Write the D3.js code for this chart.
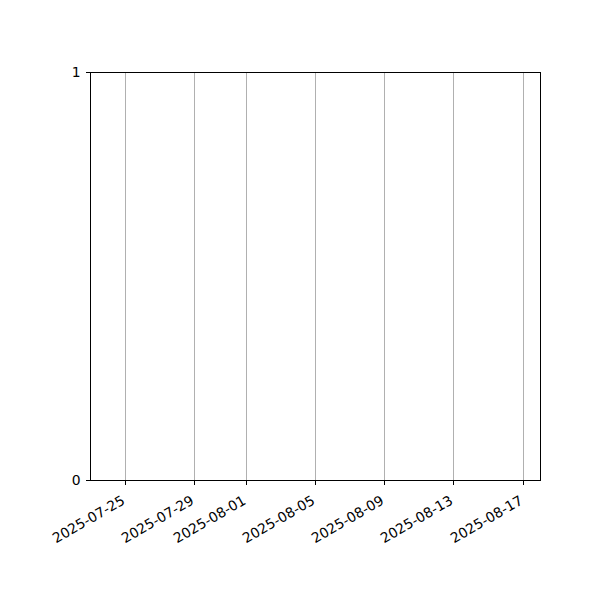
<!DOCTYPE html>
<html><head><meta charset="utf-8">
<script src="https://cdn.jsdelivr.net/npm/d3@7"></script>
<style>body{margin:0;background:#fff}svg{display:block}text{font-family:"DejaVu Sans",sans-serif}</style>
</head><body>
<svg id="c" width="600" height="600"></svg>
<script>
const xDomain = ["2025-07-22T22:33", "2025-08-17T23:33"];
const xTickDates = ["2025-07-25","2025-07-29","2025-08-01","2025-08-05","2025-08-09","2025-08-13","2025-08-17"];
const yTicks = [0, 1];
const seriesDates = [];
const seriesValues = [];

const svg = d3.select("#c");
const m = {left: 90, right: 540, top: 72, bottom: 480};
const x = d3.scaleTime().domain(xDomain.map(d => new Date(d))).range([m.left, m.right]);
const y = d3.scaleLinear().domain([0, 1]).range([m.bottom, m.top]);
const ticks = xTickDates.map(d => new Date(d + "T00:00"));
const px = v => Math.floor(v) + 0.5;

// grid
svg.append("g").attr("shape-rendering", "crispEdges").selectAll("line").data(ticks).join("line")
  .attr("x1", d => px(x(d))).attr("x2", d => px(x(d)))
  .attr("y1", m.top).attr("y2", m.bottom)
  .attr("stroke", "#b0b0b0").attr("stroke-width", 1);

// data (none)
svg.append("path").datum(seriesDates.map((d,i)=>[new Date(d), seriesValues[i]]))
  .attr("fill","none").attr("stroke","#1f77b4")
  .attr("d", d3.line().x(d=>x(d[0])).y(d=>y(d[1])));

// frame
svg.append("rect").attr("x", m.left + 0.5).attr("y", m.top + 0.5)
  .attr("width", m.right - m.left).attr("height", m.bottom - m.top)
  .attr("fill", "none").attr("stroke", "#000").attr("stroke-width", 1)
  .attr("shape-rendering", "crispEdges");

// x axis
const xa = svg.append("g").attr("transform", `translate(0,${m.bottom + 0.5})`)
  .call(d3.axisBottom(x).tickValues(ticks).tickSize(4.9).tickPadding(0).tickFormat(d3.timeFormat("%Y-%m-%d")));
xa.select(".domain").remove();
xa.selectAll(".tick").attr("transform", d => `translate(${px(x(d))},0)`);
xa.selectAll(".tick line").attr("stroke", "#000").attr("stroke-width", 1).attr("shape-rendering", "crispEdges");
xa.selectAll(".tick text")
  .attr("font-size", "13.9px").attr("font-family", "DejaVu Sans").attr("fill", "#000")
  .attr("text-anchor", "end").attr("dy", "0.35em")
  .attr("transform", "translate(-2,18.5) rotate(-30)").attr("y", 0).attr("x", 0);

// y axis
const ya = svg.append("g").attr("transform", `translate(${m.left + 0.5},0)`)
  .call(d3.axisLeft(y).tickValues(yTicks).tickSize(4.9).tickPadding(4.9).tickFormat(d3.format("d")));
ya.select(".domain").remove();
ya.selectAll(".tick").attr("transform", d => `translate(0,${px(y(d))})`);
ya.selectAll(".tick line").attr("stroke", "#000").attr("stroke-width", 1).attr("shape-rendering", "crispEdges");
ya.selectAll(".tick text").attr("font-size", "13.9px").attr("font-family", "DejaVu Sans").attr("fill", "#000");
</script>
</body></html>
